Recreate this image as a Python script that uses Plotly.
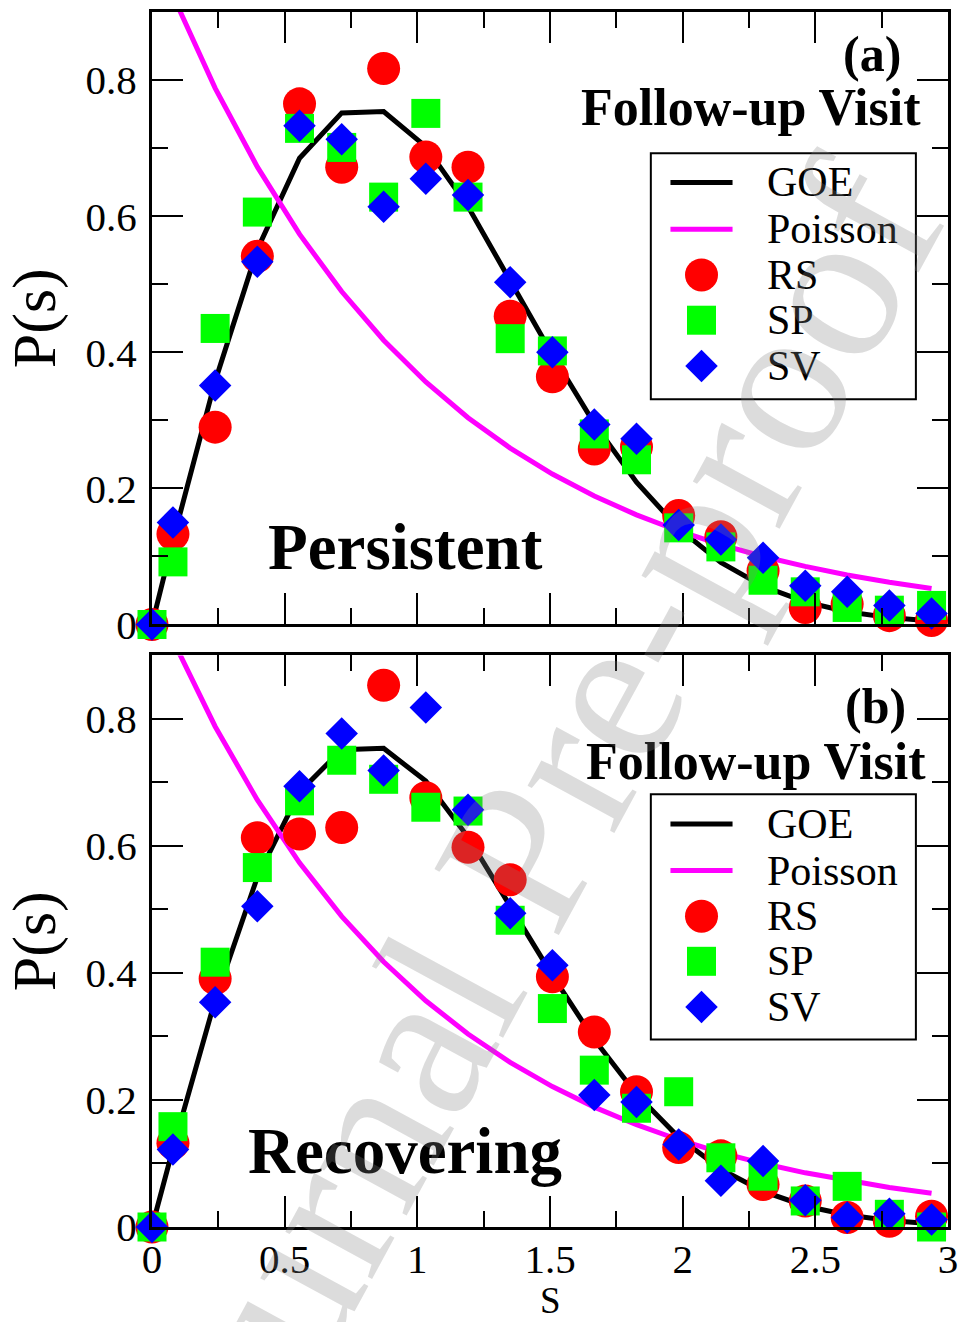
import plotly.graph_objects as go

# ---------------- data ----------------
s_vals = [0.0, 0.079, 0.238, 0.397, 0.556, 0.715, 0.873, 1.032, 1.191, 1.350,
          1.509, 1.667, 1.826, 1.985, 2.144, 2.303, 2.462, 2.620, 2.779, 2.938]

goe_vals = [0.0, 0.1235, 0.3576, 0.5510, 0.6851, 0.7517, 0.7537, 0.7022, 0.6140, 0.5068,
            0.3963, 0.2951, 0.2091, 0.1412, 0.0911, 0.0561, 0.0331, 0.0188, 0.0101, 0.0052]
poisson_vals = [1.0, 0.9240, 0.7882, 0.6724, 0.5735, 0.4892, 0.4177, 0.3563, 0.3039, 0.2592,
                0.2211, 0.1888, 0.1611, 0.1374, 0.1172, 0.0999, 0.0853, 0.0728, 0.0621, 0.0530]

# (a) Persistent
rs_a = [0.0, 0.133, 0.290, 0.541, 0.765, 0.672, 0.817, 0.687, 0.672, 0.453,
        0.364, 0.258, 0.261, 0.160, 0.129, 0.079, 0.025, 0.030, 0.013, 0.006]
sp_a = [0.0, 0.092, 0.435, 0.606, 0.729, 0.701, 0.628, 0.751, 0.628, 0.420,
        0.402, 0.280, 0.242, 0.142, 0.114, 0.065, 0.048, 0.025, 0.021, 0.028]
sv_a = [0.0, 0.150, 0.351, 0.533, 0.733, 0.713, 0.614, 0.655, 0.631, 0.503,
        0.400, 0.294, 0.273, 0.146, 0.125, 0.098, 0.057, 0.048, 0.028, 0.016]

# (b) Recovering
rs_b = [0.0, 0.132, 0.391, 0.613, 0.619, 0.629, 0.853, 0.676, 0.598, 0.547,
        0.394, 0.307, 0.213, 0.125, 0.112, 0.067, 0.041, 0.015, 0.009, 0.017]
sp_b = [0.0, 0.158, 0.417, 0.566, 0.671, 0.735, 0.705, 0.661, 0.655, 0.483,
        0.344, 0.247, 0.187, 0.213, 0.109, 0.080, 0.041, 0.064, 0.020, 0.000]
sv_b = [0.0, 0.122, 0.354, 0.505, 0.694, 0.777, 0.719, 0.818, 0.657, 0.494,
        0.412, 0.208, 0.197, 0.130, 0.073, 0.104, 0.042, 0.015, 0.021, 0.012]

series_names = ["GOE", "Poisson", "RS", "SP", "SV"]
x_ticks = [0, 0.5, 1, 1.5, 2, 2.5, 3]
x_ticktext = ["0", "0.5", "1", "1.5", "2", "2.5", "3"]
y_ticks = [0, 0.2, 0.4, 0.6, 0.8]
y_ticktext = ["0", "0.2", "0.4", "0.6", "0.8"]

# ---------------- styling ----------------
FONT = "Liberation Serif"
BLACK = "black"
COL = {"GOE": "black", "Poisson": "#ff00ff", "RS": "#ff0000", "SP": "#00ff00", "SV": "#0000ff"}
SYM = {"RS": ("circle", 33), "SP": ("square", 29), "SV": ("diamond", 25)}

panels = [
    dict(xa="x", ya="y", data={"RS": rs_a, "SP": sp_a, "SV": sv_a},
         legend_top=0.6926, legend_bottom=0.3309,
         rows=[0.6496, 0.5809, 0.5137, 0.4471, 0.3798]),
    dict(xa="x2", ya="y2", data={"RS": rs_b, "SP": sp_b, "SV": sv_b},
         legend_top=0.6816, legend_bottom=0.2954,
         rows=[0.6345, 0.5612, 0.4895, 0.4184, 0.3466]),
]

fig = go.Figure()
for p in panels:
    fig.add_trace(go.Scatter(x=s_vals, y=goe_vals, mode="lines", name="GOE",
                             line=dict(color=COL["GOE"], width=5), showlegend=False,
                             xaxis=p["xa"], yaxis=p["ya"]))
    fig.add_trace(go.Scatter(x=s_vals, y=poisson_vals, mode="lines", name="Poisson",
                             line=dict(color=COL["Poisson"], width=5), showlegend=False,
                             xaxis=p["xa"], yaxis=p["ya"]))
    for nm in ["RS", "SP", "SV"]:
        sym, size = SYM[nm]
        fig.add_trace(go.Scatter(x=s_vals, y=p["data"][nm], mode="markers", name=nm,
                                 marker=dict(symbol=sym, size=size, color=COL[nm]),
                                 cliponaxis=False, showlegend=False,
                                 xaxis=p["xa"], yaxis=p["ya"]))

minor_x = dict(dtick=0.25, ticklen=16, tickwidth=2, tickcolor=BLACK, ticks="inside")
minor_y = dict(dtick=0.1, ticklen=16, tickwidth=2, tickcolor=BLACK, ticks="inside")

def xaxis(show_labels, anchor):
    return dict(range=[0, 3], tickvals=x_ticks, ticktext=x_ticktext, automargin=False,
                showticklabels=show_labels, ticks="inside", ticklen=31, tickwidth=2,
                tickcolor=BLACK, showline=True, linecolor=BLACK, linewidth=3,
                mirror="allticks", showgrid=False, zeroline=False, minor=minor_x,
                tickfont=dict(family=FONT, size=41, color=BLACK),
                ticklabelstandoff=-6, anchor=anchor)

def yaxis(domain, anchor):
    return dict(range=[0, 0.9], domain=domain, tickvals=y_ticks, ticktext=y_ticktext,
                automargin=False,
                ticks="inside", ticklen=31, tickwidth=2, tickcolor=BLACK,
                showline=True, linecolor=BLACK, linewidth=3, mirror="allticks",
                showgrid=False, zeroline=False, minor=minor_y,
                tickfont=dict(family=FONT, size=41, color=BLACK),
                ticklabelstandoff=4, anchor=anchor,
                title=dict(text="P(s)", font=dict(family=FONT, size=62, color=BLACK),
                           standoff=10))

fig.update_layout(
    width=959, height=1322,
    margin=dict(l=152, r=11, t=12, b=95),
    paper_bgcolor="white", plot_bgcolor="white",
    font=dict(family=FONT, color=BLACK),
    showlegend=False,
    xaxis=xaxis(False, "y"),
    yaxis=yaxis([0.4959, 1.0], "x"),
    xaxis2=xaxis(True, "y2"),
    yaxis2=yaxis([0.0, 0.4704], "x2"),
)

# ---------------- legends (drawn per panel) ----------------
LEG_X0, LEG_X1 = 1.880, 2.879       # box, in s units
LINE_X0, LINE_X1 = 1.954, 2.188     # legend line sample
MARK_X = 2.071                      # legend marker centre
TEXT_X = 2.310                      # legend text start

shapes = []
ann = []
for p in panels:
    xr, yr = p["xa"], p["ya"]
    shapes.append(dict(type="rect", xref=xr, yref=yr, x0=LEG_X0, x1=LEG_X1,
                       y0=p["legend_bottom"], y1=p["legend_top"],
                       line=dict(color=BLACK, width=2), fillcolor="white", layer="above"))
    for nm, ry in zip(series_names, p["rows"]):
        if nm in ("GOE", "Poisson"):
            shapes.append(dict(type="line", xref=xr, yref=yr, x0=LINE_X0, x1=LINE_X1,
                               y0=ry, y1=ry, line=dict(color=COL[nm], width=5)))
        else:
            sym, size = SYM[nm]
            if sym == "circle":
                h = size / 2
                shapes.append(dict(type="circle", xref=xr, yref=yr,
                                   xsizemode="pixel", ysizemode="pixel",
                                   xanchor=MARK_X, yanchor=ry, x0=-h, x1=h, y0=-h, y1=h,
                                   fillcolor=COL[nm], line=dict(width=0)))
            elif sym == "square":
                h = size / 2
                shapes.append(dict(type="rect", xref=xr, yref=yr,
                                   xsizemode="pixel", ysizemode="pixel",
                                   xanchor=MARK_X, yanchor=ry, x0=-h, x1=h, y0=-h, y1=h,
                                   fillcolor=COL[nm], line=dict(width=0)))
            else:
                h = size * 1.3 / 2
                shapes.append(dict(type="path", xref=xr, yref=yr,
                                   xsizemode="pixel", ysizemode="pixel",
                                   xanchor=MARK_X, yanchor=ry,
                                   path=f"M0,{h} L{h},0 L0,{-h} L{-h},0 Z",
                                   fillcolor=COL[nm], line=dict(width=0)))
        ann.append(dict(text=nm, x=TEXT_X, y=ry, xref=xr, yref=yr, showarrow=False,
                        xanchor="left", yanchor="middle",
                        font=dict(family=FONT, size=42, color=BLACK)))

def txt(text, x, y, xref, yref, size, xanchor="center"):
    return dict(text=text, x=x, y=y, xref=xref, yref=yref, showarrow=False,
                xanchor=xanchor, yanchor="middle",
                font=dict(family=FONT, size=size, color=BLACK))

ann.append(txt("<b>(a)</b>", 2.83, 0.838, "x", "y", 50, "right"))
ann.append(txt("<b>Follow-up Visit</b>", 2.905, 0.760, "x", "y", 52, "right"))
ann.append(txt("<b>Persistent</b>", 0.957, 0.114, "x", "y", 65))
ann.append(txt("<b>(b)</b>", 2.848, 0.820, "x2", "y2", 50, "right"))
ann.append(txt("<b>Follow-up Visit</b>", 2.924, 0.733, "x2", "y2", 52, "right"))
ann.append(txt("<b>Recovering</b>", 0.955, 0.120, "x2", "y2", 65))
# x-axis title (placed below the tick labels)
ann.append(txt("S", 0.5, -0.0605, "paper", "paper", 37))
# watermark
ann.append(dict(text="Journal Pre-proof", x=0.468, y=0.313, xref="paper", yref="paper",
                showarrow=False, xanchor="center", yanchor="middle", textangle=-61.5,
                font=dict(family=FONT, size=215, color="rgba(128,128,128,0.28)")))

fig.update_layout(shapes=shapes, annotations=ann)
fig.write_html("out.html", config={"displayModeBar": False},
               post_script="document.body.style.margin='0';")
